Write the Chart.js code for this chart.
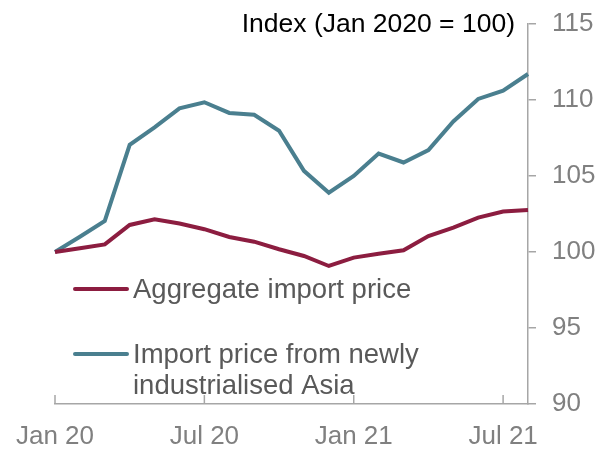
<!DOCTYPE html>
<html>
<head>
<meta charset="utf-8">
<script src="https://cdn.jsdelivr.net/npm/chart.js@4"></script>
<style>
  html, body { margin: 0; padding: 0; background: #fff; }
  #wrap { width: 605px; height: 451px; }
</style>
</head>
<body>
<div id="wrap"><canvas id="chart" width="605" height="451"></canvas></div>
<script>
// monthly, Jan 2020 - Aug 2021
const months = ['Jan 20', 'Feb 20', 'Mar 20', 'Apr 20', 'May 20', 'Jun 20', 'Jul 20', 'Aug 20', 'Sep 20', 'Oct 20', 'Nov 20', 'Dec 20',
  'Jan 21', 'Feb 21', 'Mar 21', 'Apr 21', 'May 21', 'Jun 21', 'Jul 21', 'Aug 21'];
const shownLabels = ['Jan 20', 'Jul 20', 'Jan 21', 'Jul 21'];
const aggregate = [100, 100.25, 100.5, 101.78, 102.15, 101.87, 101.5, 100.99, 100.68, 100.18, 99.74, 99.08,
  99.63, 99.89, 100.11, 101.05, 101.6, 102.26, 102.66, 102.77];
const asia = [100, 101.0, 102.04, 107.05, 108.2, 109.45, 109.85, 109.15, 109.03, 107.98, 105.34, 103.9,
  105.0, 106.48, 105.89, 106.7, 108.59, 110.07, 110.61, 111.71];
const yTicks = [90, 95, 100, 105, 110, 115];
const seriesNames = ['Aggregate import price', ['Import price from newly', 'industrialised Asia']];

const RED = '#8c1d40';
const TEAL = '#4a7f8f';
const AXIS = '#a6a6a6';
const FONT = '"Liberation Sans", Arial, sans-serif';

// title above the plot, left of the right-hand axis
const titlePlugin = {
  id: 'titleText',
  afterDraw(chart) {
    const ctx = chart.ctx;
    ctx.save();
    ctx.font = '26.5px ' + FONT;
    ctx.fillStyle = '#000';
    ctx.textAlign = 'right';
    ctx.textBaseline = 'alphabetic';
    ctx.fillText('Index (Jan 2020 = 100)', 515, 32);
    ctx.restore();
  }
};

// small tick marks pointing up into the plot for the labelled months
const xTickPlugin = {
  id: 'xInnerTicks',
  afterDraw(chart) {
    const ctx = chart.ctx;
    const x = chart.scales.x;
    const bottom = chart.chartArea.bottom;
    ctx.save();
    ctx.strokeStyle = AXIS;
    ctx.lineWidth = 1.5;
    shownLabels.forEach(l => {
      const px = x.getPixelForValue(months.indexOf(l));
      ctx.beginPath();
      ctx.moveTo(px, bottom);
      ctx.lineTo(px, bottom - 9);
      ctx.stroke();
    });
    ctx.restore();
  }
};

// legend drawn inside the plot area
const legendPlugin = {
  id: 'insideLegend',
  afterDraw(chart) {
    const ctx = chart.ctx;
    const rows = [{ y: 289, color: RED, text: seriesNames[0] }, { y: 354, color: TEAL, text: seriesNames[1] }];
    ctx.save();
    ctx.font = '27.5px ' + FONT;
    ctx.fillStyle = '#595959';
    ctx.textBaseline = 'middle';
    ctx.textAlign = 'left';
    rows.forEach(r => {
      ctx.strokeStyle = r.color;
      ctx.lineWidth = 4;
      ctx.lineCap = 'round';
      ctx.beginPath();
      ctx.moveTo(75, r.y);
      ctx.lineTo(127, r.y);
      ctx.stroke();
      const lines = Array.isArray(r.text) ? r.text : [r.text];
      lines.forEach((t, i) => ctx.fillText(t, 133, r.y + 1 + i * 31));
    });
    ctx.restore();
  }
};

new Chart(document.getElementById('chart').getContext('2d'), {
  type: 'line',
  data: {
    labels: months,
    datasets: [
      { label: 'Aggregate import price', data: aggregate, borderColor: RED, borderWidth: 4, pointRadius: 0, tension: 0, fill: false },
      { label: 'Import price from newly industrialised Asia', data: asia, borderColor: TEAL, borderWidth: 4, pointRadius: 0, tension: 0, fill: false }
    ]
  },
  options: {
    responsive: false,
    animation: false,
    layout: { padding: { left: 55, right: 0, top: 24, bottom: 0 } },
    plugins: { legend: { display: false }, tooltip: { enabled: false } },
    scales: {
      x: {
        offset: false,
        grid: { display: false, drawTicks: false },
        border: { display: true, color: AXIS, width: 1.5 },
        afterFit: s => { s.height = 47; s.paddingLeft = 0; s.paddingRight = 0; },
        ticks: {
          autoSkip: false,
          maxRotation: 0,
          padding: 17,
          color: '#808080',
          font: { family: FONT, size: 26 },
          callback: (v, i) => shownLabels.includes(months[i]) ? months[i] : ''
        }
      },
      y: {
        position: 'right',
        min: yTicks[0],
        max: yTicks[yTicks.length - 1],
        afterBuildTicks: s => { s.ticks = yTicks.map(v => ({ value: v })); },
        afterFit: s => { s.width = 77; s.paddingTop = 0; s.paddingBottom = 0; },
        grid: { drawOnChartArea: false, drawTicks: true, tickLength: 8, color: AXIS, lineWidth: 1.5 },
        border: { display: true, color: AXIS, width: 1.5 },
        ticks: { padding: 16, color: '#808080', font: { family: FONT, size: 26 } }
      }
    }
  },
  plugins: [titlePlugin, xTickPlugin, legendPlugin]
});
</script>
</body>
</html>
